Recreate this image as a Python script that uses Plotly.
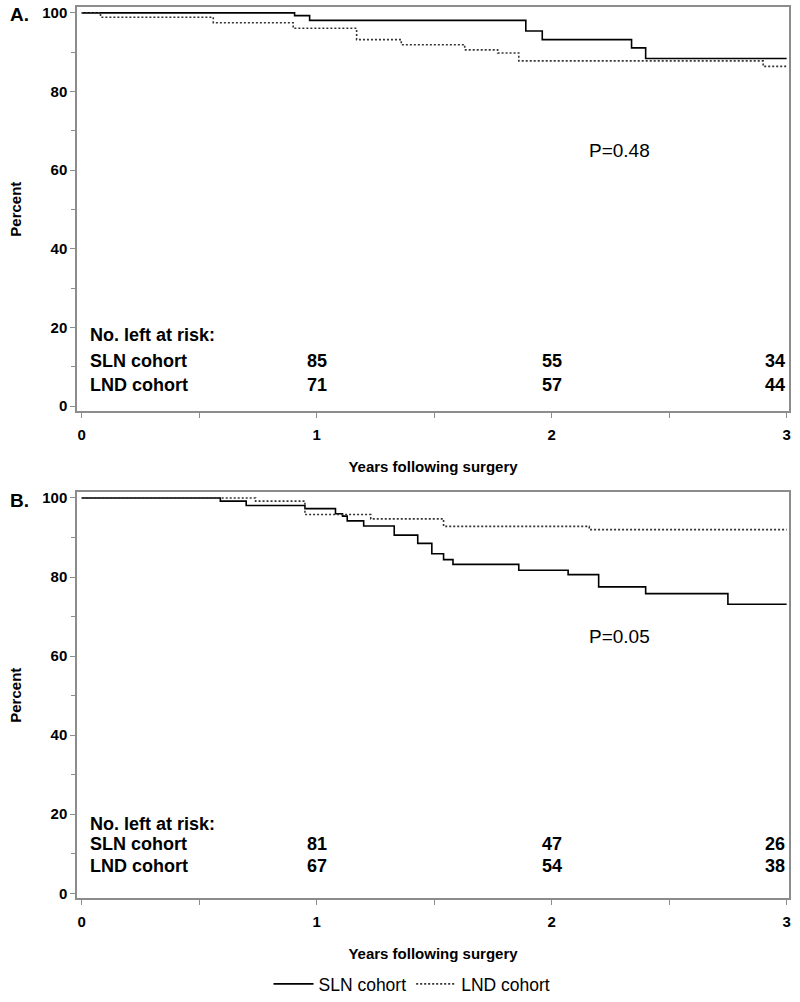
import plotly.graph_objects as go

# ---- data ----
a_sln_t = [0, 0.906, 0.97, 1.89, 1.96, 2.34, 2.40, 3.0]
a_sln_s = [100, 99.3, 98.1, 95.4, 93.2, 91.1, 88.4, 88.4]
a_lnd_t = [0, 0.08, 0.56, 0.90, 1.17, 1.36, 1.63, 1.77, 1.86, 2.90, 3.0]
a_lnd_s = [100, 98.9, 97.5, 96.1, 93.2, 91.9, 90.6, 89.8, 87.8, 86.4, 86.4]

b_sln_t = [0, 0.59, 0.70, 0.95, 1.08, 1.11, 1.13, 1.20, 1.33, 1.43, 1.49, 1.54, 1.58,
           1.86, 2.07, 2.20, 2.40, 2.75, 3.0]
b_sln_s = [100, 99.2, 98.1, 97.3, 96.0, 95.4, 94.2, 92.9, 90.6, 88.5, 85.9, 84.4, 83.2,
           81.7, 80.6, 77.5, 75.8, 73.1, 73.1]
b_lnd_t = [0, 0.74, 0.95, 1.23, 1.54, 2.16, 3.0]
b_lnd_s = [100, 99.2, 95.8, 94.7, 92.8, 92.0, 92.0]

risk_years = [1, 2, 3]
a_risk_sln = [85, 55, 34]
a_risk_lnd = [71, 57, 44]
b_risk_sln = [81, 47, 26]
b_risk_lnd = [67, 54, 38]

p_values = ["P=0.48", "P=0.05"]
panel_labels = ["A.", "B."]
series_names = ["SLN cohort", "LND cohort"]

x_ticks = [0, 1, 2, 3]
y_ticks = [0, 20, 40, 60, 80, 100]

fig = go.Figure()

solid = dict(color="black", width=1.6)
dotted = dict(color="#333333", width=1.6, dash="2px,2px")

fig.add_trace(go.Scatter(x=a_sln_t, y=a_sln_s, mode="lines", line=solid, line_shape="hv",
                         name=series_names[0], xaxis="x", yaxis="y", showlegend=True))
fig.add_trace(go.Scatter(x=a_lnd_t, y=a_lnd_s, mode="lines", line=dotted, line_shape="hv",
                         name=series_names[1], xaxis="x", yaxis="y", showlegend=True))
fig.add_trace(go.Scatter(x=b_sln_t, y=b_sln_s, mode="lines", line=solid, line_shape="hv",
                         name=series_names[0], xaxis="x2", yaxis="y2", showlegend=False))
fig.add_trace(go.Scatter(x=b_lnd_t, y=b_lnd_s, mode="lines", line=dotted, line_shape="hv",
                         name=series_names[1], xaxis="x2", yaxis="y2", showlegend=False))

tickfont = dict(family="Liberation Sans", size=15, color="black", weight="bold")
titlefont = dict(family="Liberation Sans", size=15, color="black", weight="bold")
axis_common = dict(showline=True, linecolor="#8c8c8c", linewidth=1.5, mirror=True,
                   ticks="outside", ticklen=5, tickcolor="#8c8c8c", showgrid=False,
                   zeroline=False, tickfont=tickfont, fixedrange=True, automargin=False)

xdom = [77 / 800, 789 / 800]
ydomA = [1 - 413 / 1002, 1 - 7 / 1002]
ydomB = [1 - 902 / 1002, 1 - 494 / 1002]

for xa, ya, yd in [("xaxis", "yaxis", ydomA), ("xaxis2", "yaxis2", ydomB)]:
    anchor_y = "y" if ya == "yaxis" else "y2"
    anchor_x = "x" if xa == "xaxis" else "x2"
    fig.update_layout(**{
        xa: dict(axis_common, domain=xdom, anchor=anchor_y, range=[-0.02, 3.01],
                 tickvals=x_ticks, ticklabelstandoff=4,
                 minor=dict(tickvals=[0.5, 1.5, 2.5], ticks="outside",
                            ticklen=5, tickcolor="#8c8c8c"),
                 title=dict(text="Years following surgery", font=titlefont, standoff=19)),
        ya: dict(axis_common, domain=yd, anchor=anchor_x, range=[-1.3, 101.5],
                 tickvals=y_ticks,
                 minor=dict(tickvals=[10, 30, 50, 70, 90], ticks="outside",
                            ticklen=4, tickcolor="#8c8c8c"),
                 title=dict(text="Percent", font=titlefont, standoff=17)),
    })

annots = []
risk_font = dict(family="Liberation Sans", size=18, color="black", weight="bold")
rows = [(("x", "y"), p_values[0], panel_labels[0], a_risk_sln, a_risk_lnd, (18.0, 11.6, 5.3)),
        (("x2", "y2"), p_values[1], panel_labels[1], b_risk_sln, b_risk_lnd, (17.4, 12.4, 6.8))]
for (xr, yr), pv, lab, rs, rl, (y0, y1, y2) in rows:
    annots.append(dict(x=2.29, y=65.0, xref=xr, yref=yr, text=pv, showarrow=False,
                       xanchor="center", font=dict(family="Liberation Sans", size=19, color="black")))
    annots.append(dict(x=0.025, y=y0, xref=xr, yref=yr, text="No. left at risk:", showarrow=False,
                       xanchor="left", font=risk_font))
    annots.append(dict(x=0.025, y=y1, xref=xr, yref=yr, text="SLN cohort", showarrow=False,
                       xanchor="left", font=risk_font))
    annots.append(dict(x=0.025, y=y2, xref=xr, yref=yr, text="LND cohort", showarrow=False,
                       xanchor="left", font=risk_font))
    for i, yrs in enumerate(risk_years):
        anc = "right" if yrs == 3 else "center"
        annots.append(dict(x=yrs, y=y1, xref=xr, yref=yr, text=str(rs[i]), showarrow=False,
                           xanchor=anc, font=risk_font))
        annots.append(dict(x=yrs, y=y2, xref=xr, yref=yr, text=str(rl[i]), showarrow=False,
                           xanchor=anc, font=risk_font))
    ypanel = 1 - 15 / 1002 if xr == "x" else 1 - 503 / 1002
    annots.append(dict(x=8 / 800, y=ypanel, xref="paper", yref="paper", text=lab, showarrow=False,
                       xanchor="left", yanchor="middle",
                       font=dict(family="Liberation Sans", size=19, color="black", weight="bold")))

fig.update_layout(
    width=800, height=1002,
    margin=dict(l=0, r=0, t=0, b=0),
    plot_bgcolor="white", paper_bgcolor="white",
    annotations=annots,
    legend=dict(orientation="h", x=0.515, xanchor="center", y=1 - 988 / 1002, yanchor="middle",
                font=dict(family="Liberation Sans", size=17.5, color="black"),
                itemwidth=40, tracegroupgap=0),
    showlegend=True,
)

fig.write_html("out.html", config={"displayModeBar": False},
               post_script="document.body.style.margin='0px';document.body.style.overflow='hidden';")
